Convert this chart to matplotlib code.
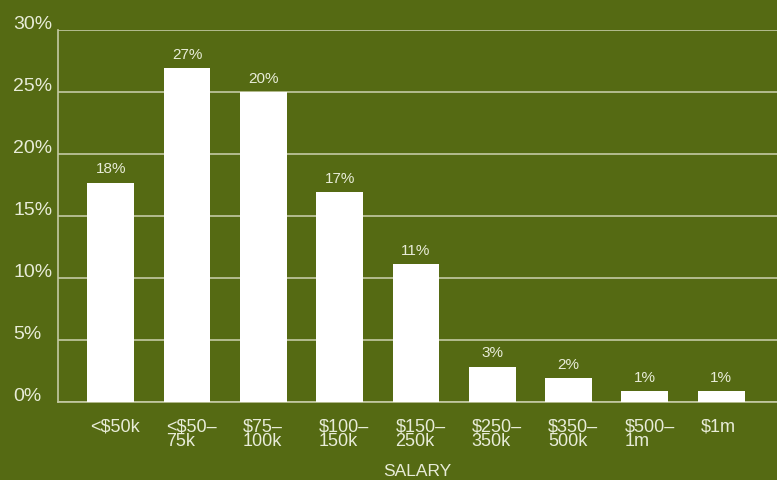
import matplotlib
matplotlib.use("Agg")
import matplotlib.pyplot as plt
import matplotlib.transforms as mtransforms

categories = ["<$50k", "<$50–\n75k", "$75–\n100k", "$100–\n150k", "$150–\n250k",
              "$250–\n350k", "$350–\n500k", "$500–\n1m", "$1m"]
bar_values = [17.7, 26.9, 25.0, 16.9, 11.1, 2.85, 1.95, 0.9, 0.9]
bar_labels = ["18%", "27%", "20%", "17%", "11%", "3%", "2%", "1%", "1%"]
y_ticks = [0, 5, 10, 15, 20, 25, 30]
y_tick_labels = ["0%", "5%", "10%", "15%", "20%", "25%", "30%"]
x_title = "SALARY"

BG = "#556a13"
TXT = "#e8ecd8"
GRID = "#c4c9a4"
plt.rcParams['font.family'] = ['Liberation Sans', 'DejaVu Sans']

fig = plt.figure(figsize=(7.77, 4.80), dpi=100, facecolor=BG)
ax = fig.add_axes([58/777, 78/480, 719/777, 372/480])
ax.set_facecolor(BG)

x = list(range(len(categories)))
ax.bar(x, bar_values, width=0.615, color="white", zorder=3)
for xi, v, lab in zip(x, bar_values, bar_labels):
    ax.annotate(lab, (xi, v), xytext=(0, 4.5), textcoords="offset points",
                ha="center", va="bottom", color=TXT, fontsize=11, zorder=4)

ax.set_xlim(-0.69, 8.73)
ax.set_ylim(0, 30)
ax.set_yticks(y_ticks)
ax.set_yticklabels(y_tick_labels)
ax.yaxis.grid(True, color=GRID, linewidth=1.2, zorder=1)
ax.set_axisbelow(True)
for s in ["top", "right"]:
    ax.spines[s].set_visible(False)
for s in ["left", "bottom"]:
    ax.spines[s].set_color(GRID)
    ax.spines[s].set_linewidth(1.2)

ax.tick_params(axis="y", length=0, colors=TXT, labelsize=14, pad=45 * 0.72)
for lbl in ax.get_yticklabels():
    lbl.set_horizontalalignment("left")
    lbl.set_transform(lbl.get_transform() + mtransforms.ScaledTranslation(0, 7.5/100, fig.dpi_scale_trans))

ax.set_xticks([xi - 0.27 for xi in x])
ax.set_xticklabels(categories, ha="left", linespacing=0.8)
ax.tick_params(axis="x", length=0, colors=TXT, labelsize=13, pad=12)

ax.set_xlabel(x_title, color=TXT, fontsize=12.5, labelpad=10)

fig.savefig("out.png", dpi=100, facecolor=BG)
